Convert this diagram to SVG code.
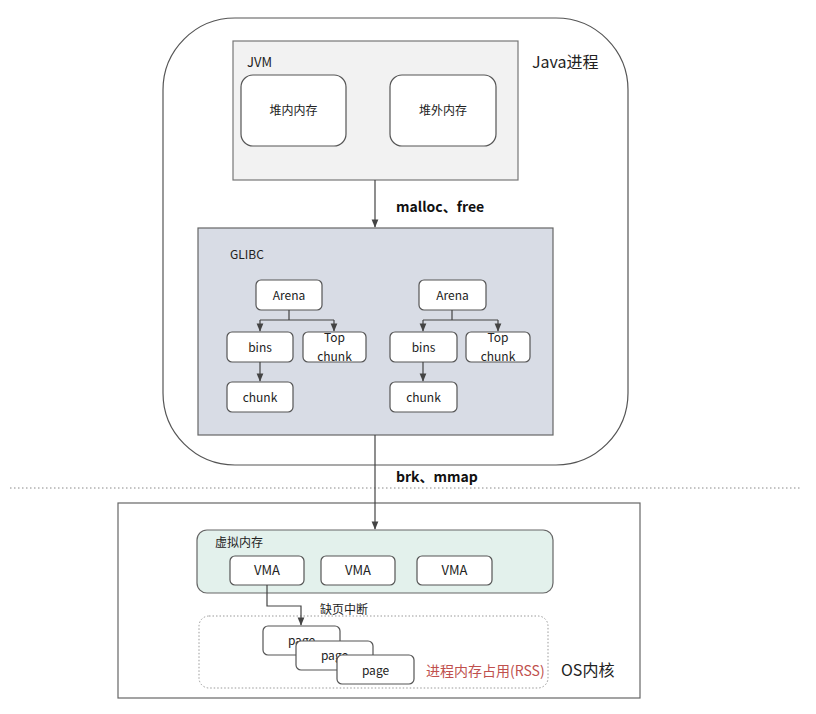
<svg xmlns="http://www.w3.org/2000/svg" width="816" height="714" viewBox="0 0 816 714">
<style>
text{font-family:"Microsoft YaHei","Noto Sans CJK SC","Noto Sans",sans-serif;fill:#222;}
.box{fill:#fff;stroke:#555;stroke-width:1.2;}
.s{font-size:12px;}
.m{font-size:13px;}
.b{font-size:14px;font-weight:bold;fill:#111;}
.l{font-size:16px;}
.ln{fill:none;stroke:#444;stroke-width:1.2;}
</style>
<defs>
<marker id="ar" viewBox="0 0 10 10" refX="9" refY="5" markerWidth="7" markerHeight="7" orient="auto">
<path d="M0,1 L10,5 L0,9 z" fill="#444"/>
</marker>
</defs>
<rect width="816" height="714" fill="#fff"/>

<g id="java-process">
<rect x="163" y="18" width="465" height="447" rx="72" fill="#fff" stroke="#555" stroke-width="1.2"/>
<text x="532" y="68" class="l">Java进程</text>
</g>

<g id="jvm">
<rect x="233" y="41" width="285" height="139" fill="#f2f2f2" stroke="#777" stroke-width="1.2"/>
<text x="247" y="67" class="m">JVM</text>
</g>
<g id="heap-in">
<rect x="241" y="75" width="105" height="71" rx="12" class="box"/>
<text x="293.5" y="115" class="s" text-anchor="middle">堆内内存</text>
</g>
<g id="heap-out">
<rect x="390" y="75" width="106" height="71" rx="12" class="box"/>
<text x="443" y="115" class="s" text-anchor="middle">堆外内存</text>
</g>

<g id="glibc">
<rect x="198" y="228" width="355" height="207" fill="#d8dce5" stroke="#666" stroke-width="1.2"/>
<text x="230" y="259" class="s">GLIBC</text>
</g>
<g id="arena1">
<rect x="256" y="280" width="66" height="30" rx="5" class="box"/>
<text x="289" y="300" class="s" text-anchor="middle">Arena</text>
</g>
<g id="bins1">
<rect x="227" y="332" width="66" height="30" rx="5" class="box"/>
<text x="260" y="352" class="s" text-anchor="middle">bins</text>
</g>
<g id="top1">
<rect x="303" y="332" width="63" height="30" rx="5" class="box"/>
<text x="334.5" y="342" class="s" text-anchor="middle">Top</text>
<text x="334.5" y="361" class="s" text-anchor="middle">chunk</text>
</g>
<g id="chunk1">
<rect x="227" y="382" width="66" height="30" rx="5" class="box"/>
<text x="260" y="402" class="s" text-anchor="middle">chunk</text>
</g>
<g id="arena2">
<rect x="419" y="280" width="67" height="30" rx="5" class="box"/>
<text x="452.5" y="300" class="s" text-anchor="middle">Arena</text>
</g>
<g id="bins2">
<rect x="390" y="332" width="67" height="30" rx="5" class="box"/>
<text x="423.5" y="352" class="s" text-anchor="middle">bins</text>
</g>
<g id="top2">
<rect x="466" y="332" width="64" height="30" rx="5" class="box"/>
<text x="498" y="342" class="s" text-anchor="middle">Top</text>
<text x="498" y="361" class="s" text-anchor="middle">chunk</text>
</g>
<g id="chunk2">
<rect x="390" y="382" width="67" height="30" rx="5" class="box"/>
<text x="423.5" y="402" class="s" text-anchor="middle">chunk</text>
</g>

<g id="divider">
<line x1="10" y1="488" x2="800" y2="488" stroke="#888" stroke-width="1" stroke-dasharray="1.5,2.5"/>
</g>

<g id="os">
<rect x="118" y="503" width="522" height="195" fill="#fff" stroke="#666" stroke-width="1.2"/>
<text x="561" y="676" class="l">OS内核</text>
</g>
<g id="vmem">
<rect x="197" y="530" width="356" height="63" rx="10" fill="#e3f1ec" stroke="#666" stroke-width="1.2"/>
<text x="215" y="547" class="s">虚拟内存</text>
</g>
<g id="vma1">
<rect x="230" y="556" width="74" height="29" rx="5" class="box"/>
<text x="267" y="575" class="m" text-anchor="middle">VMA</text>
</g>
<g id="vma2">
<rect x="321" y="556" width="74" height="29" rx="5" class="box"/>
<text x="358" y="575" class="m" text-anchor="middle">VMA</text>
</g>
<g id="vma3">
<rect x="417" y="556" width="75" height="29" rx="5" class="box"/>
<text x="454.5" y="575" class="m" text-anchor="middle">VMA</text>
</g>
<g id="rss">
<rect x="199" y="616" width="349" height="72" rx="10" fill="none" stroke="#999" stroke-width="1" stroke-dasharray="1.5,2"/>
<text x="426" y="676" style="font-size:14px;fill:#c0504d">进程内存占用(RSS)</text>
</g>
<g id="page1">
<rect x="263" y="626" width="77" height="29" rx="5" class="box"/>
<text x="301.5" y="645" class="s" text-anchor="middle">page</text>
</g>
<g id="page2">
<rect x="296" y="641" width="77" height="29" rx="5" class="box"/>
<text x="334.5" y="660" class="s" text-anchor="middle">page</text>
</g>
<g id="page3">
<rect x="337" y="655" width="77" height="29" rx="5" class="box"/>
<text x="375.5" y="675" class="s" text-anchor="middle">page</text>
</g>

<g id="connectors">
<line x1="375" y1="180" x2="375" y2="227" class="ln" marker-end="url(#ar)"/>
<text x="396" y="212" class="b">malloc、free</text>
<line x1="375" y1="435" x2="375" y2="529" class="ln" marker-end="url(#ar)"/>
<text x="396" y="482" class="b">brk、mmap</text>
<path d="M289,310 V320 M260,320 H334" class="ln"/>
<line x1="260" y1="320" x2="260" y2="331" class="ln" marker-end="url(#ar)"/>
<line x1="334" y1="320" x2="334" y2="331" class="ln" marker-end="url(#ar)"/>
<line x1="260" y1="362" x2="260" y2="381" class="ln" marker-end="url(#ar)"/>
<path d="M452,310 V320 M423,320 H498" class="ln"/>
<line x1="423" y1="320" x2="423" y2="331" class="ln" marker-end="url(#ar)"/>
<line x1="498" y1="320" x2="498" y2="331" class="ln" marker-end="url(#ar)"/>
<line x1="423" y1="362" x2="423" y2="381" class="ln" marker-end="url(#ar)"/>
<path d="M267,585 V606 H301 V625" class="ln" marker-end="url(#ar)"/>
<text x="320" y="614" class="s">缺页中断</text>
</g>
</svg>
